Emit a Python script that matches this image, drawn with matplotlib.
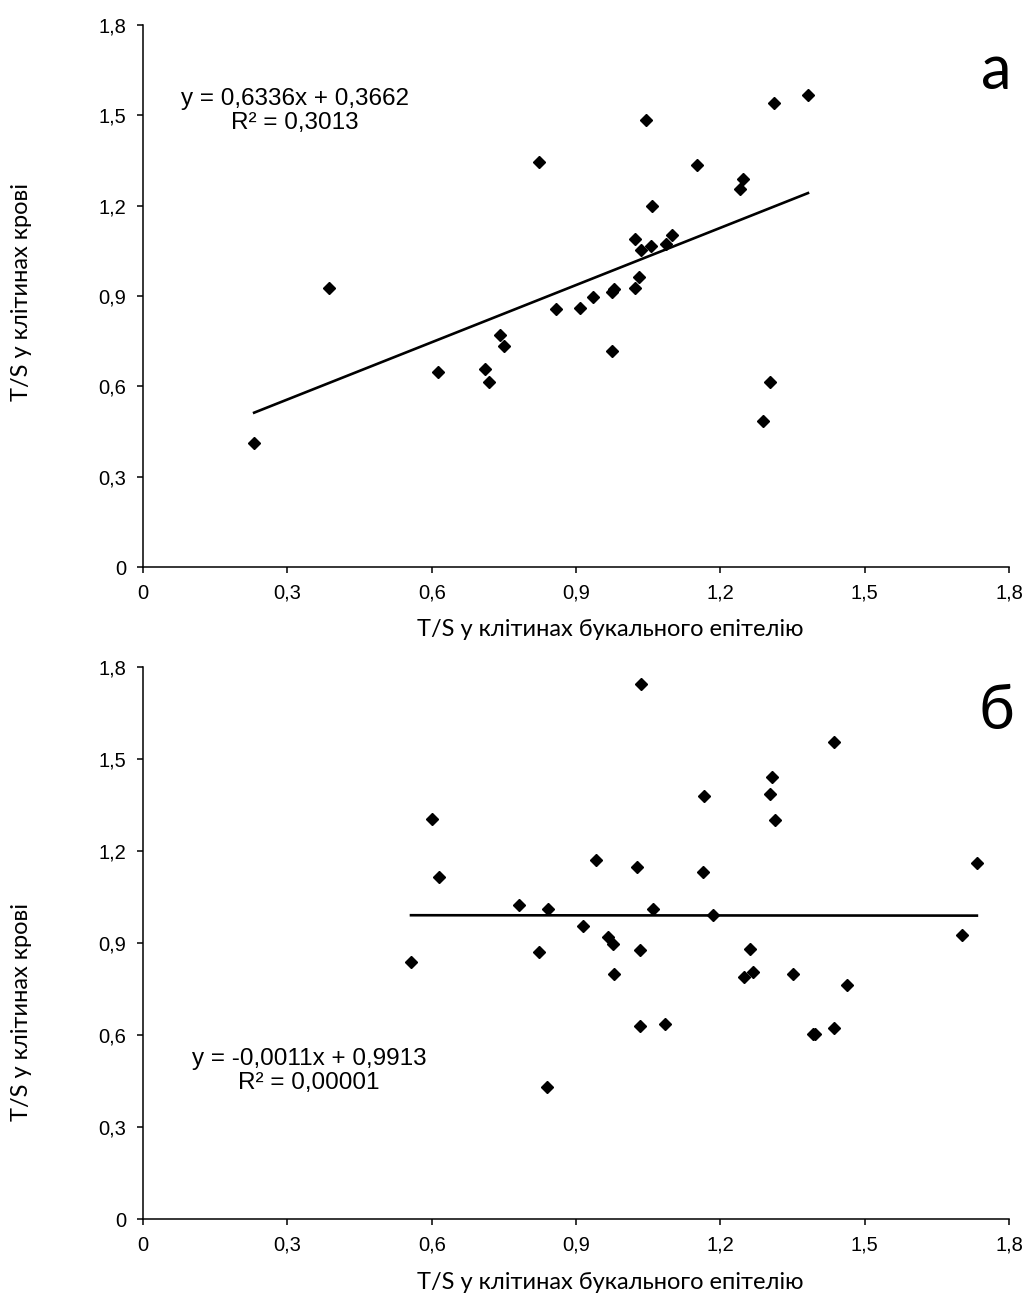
import numpy as np
import matplotlib.pyplot as plt
from matplotlib.ticker import FixedLocator

# panel а: T/S in buccal epithelium (x) vs blood (y)
bucal_a = [0.231, 0.386, 0.614, 0.711, 0.720, 0.742, 0.751, 0.822, 0.859, 0.909,
           0.935, 0.974, 0.978, 1.022, 1.031, 0.974, 1.022, 1.035, 1.056, 1.058,
           1.0875, 1.100, 1.046, 1.151, 1.240, 1.247, 1.311, 1.382, 1.304, 1.289]
blood_a = [0.413, 0.925, 0.648, 0.658, 0.614, 0.771, 0.735, 1.345, 0.856, 0.859,
           0.896, 0.913, 0.923, 0.925, 0.964, 0.718, 1.089, 1.053, 1.065, 1.200,
           1.074, 1.103, 1.485, 1.335, 1.257, 1.287, 1.540, 1.569, 0.614, 0.486]

# panel б
bucal_b = [0.557, 0.600, 0.616, 0.781, 0.841, 0.822, 0.839, 1.034, 1.437, 1.308,
           1.304, 1.166, 1.313, 0.942, 1.026, 1.164, 1.733, 1.060, 1.184, 0.915,
           0.966, 0.976, 1.032, 0.978, 1.261, 1.268, 1.250, 1.351, 1.464, 1.703,
           1.032, 1.085, 1.392, 1.397, 1.436]
blood_b = [0.839, 1.306, 1.115, 1.025, 1.011, 0.872, 0.431, 1.746, 1.557, 1.441,
           1.387, 1.379, 1.301, 1.170, 1.149, 1.131, 1.161, 1.011, 0.991, 0.954,
           0.920, 0.898, 0.877, 0.798, 0.882, 0.804, 0.790, 0.798, 0.762, 0.926,
           0.630, 0.635, 0.603, 0.603, 0.623]

# trend line coefficients (slope, intercept) and labels
fit_a = (0.6336, 0.3662)
fit_b = (-0.0011, 0.9913)
eq_a = "y = 0,6336x + 0,3662\nR² = 0,3013"
eq_b = "y = -0,0011x + 0,9913\nR² = 0,00001"

ticks = [0, 0.3, 0.6, 0.9, 1.2, 1.5, 1.8]
tick_labels = ["0", "0,3", "0,6", "0,9", "1,2", "1,5", "1,8"]
xlabel = "T/S у клітинах букального епітелію"
ylabel = "T/S у клітинах крові"

arial = ["Liberation Sans", "DejaVu Sans"]
calibri = ["Lato", "DejaVu Sans"]

fig = plt.figure(figsize=(10.25, 13.02), dpi=100)
ax_a = fig.add_axes([0.1395, 0.5645, 0.845, 0.4163])
ax_b = fig.add_axes([0.1395, 0.0637, 0.845, 0.4240])


def draw_panel(ax, xs, ys, fit, eq, eq_pos, letter, letter_y, ylab_y):
    ax.plot(xs, ys, linestyle="none", marker="D", markersize=6.2,
            color="black", zorder=3)
    lx = np.array([min(xs), max(xs)])
    ax.plot(lx, fit[0] * lx + fit[1], color="black", lw=1.9, zorder=2)

    ax.set_xlim(0, 1.8)
    ax.set_ylim(0, 1.8)
    ax.xaxis.set_major_locator(FixedLocator(ticks))
    ax.yaxis.set_major_locator(FixedLocator(ticks))
    ax.set_xticklabels(tick_labels, family=arial, fontsize=14.5)
    ax.set_yticklabels(tick_labels, family=arial, fontsize=14.5)
    ax.tick_params(direction="out", length=4, width=1.1, pad=8, color="black")
    for side in ["top", "right"]:
        ax.spines[side].set_visible(False)
    for side in ["left", "bottom"]:
        ax.spines[side].set_linewidth(1.1)
        ax.spines[side].set_color("black")
    ax.patch.set_visible(False)

    ax.set_xlabel(xlabel, family=calibri, fontsize=17)
    ax.set_ylabel(ylabel, family=calibri, fontsize=17)
    ax.xaxis.set_label_coords(0.539, -0.095)
    ax.yaxis.set_label_coords(-0.128, ylab_y)

    ax.text(eq_pos[0], eq_pos[1], eq, family=arial, fontsize=17.5,
            ha="center", va="center", linespacing=1.1)
    ax.text(0.985, letter_y, letter, transform=ax.transAxes, family=calibri,
            fontsize=44, ha="center", va="center")


draw_panel(ax_a, bucal_a, blood_a, fit_a, eq_a, (0.316, 1.515), "а", 0.915, 0.507)
draw_panel(ax_b, bucal_b, blood_b, fit_b, eq_b, (0.345, 0.483), "б", 0.92, 0.375)

fig.savefig("out.png", dpi=100)
